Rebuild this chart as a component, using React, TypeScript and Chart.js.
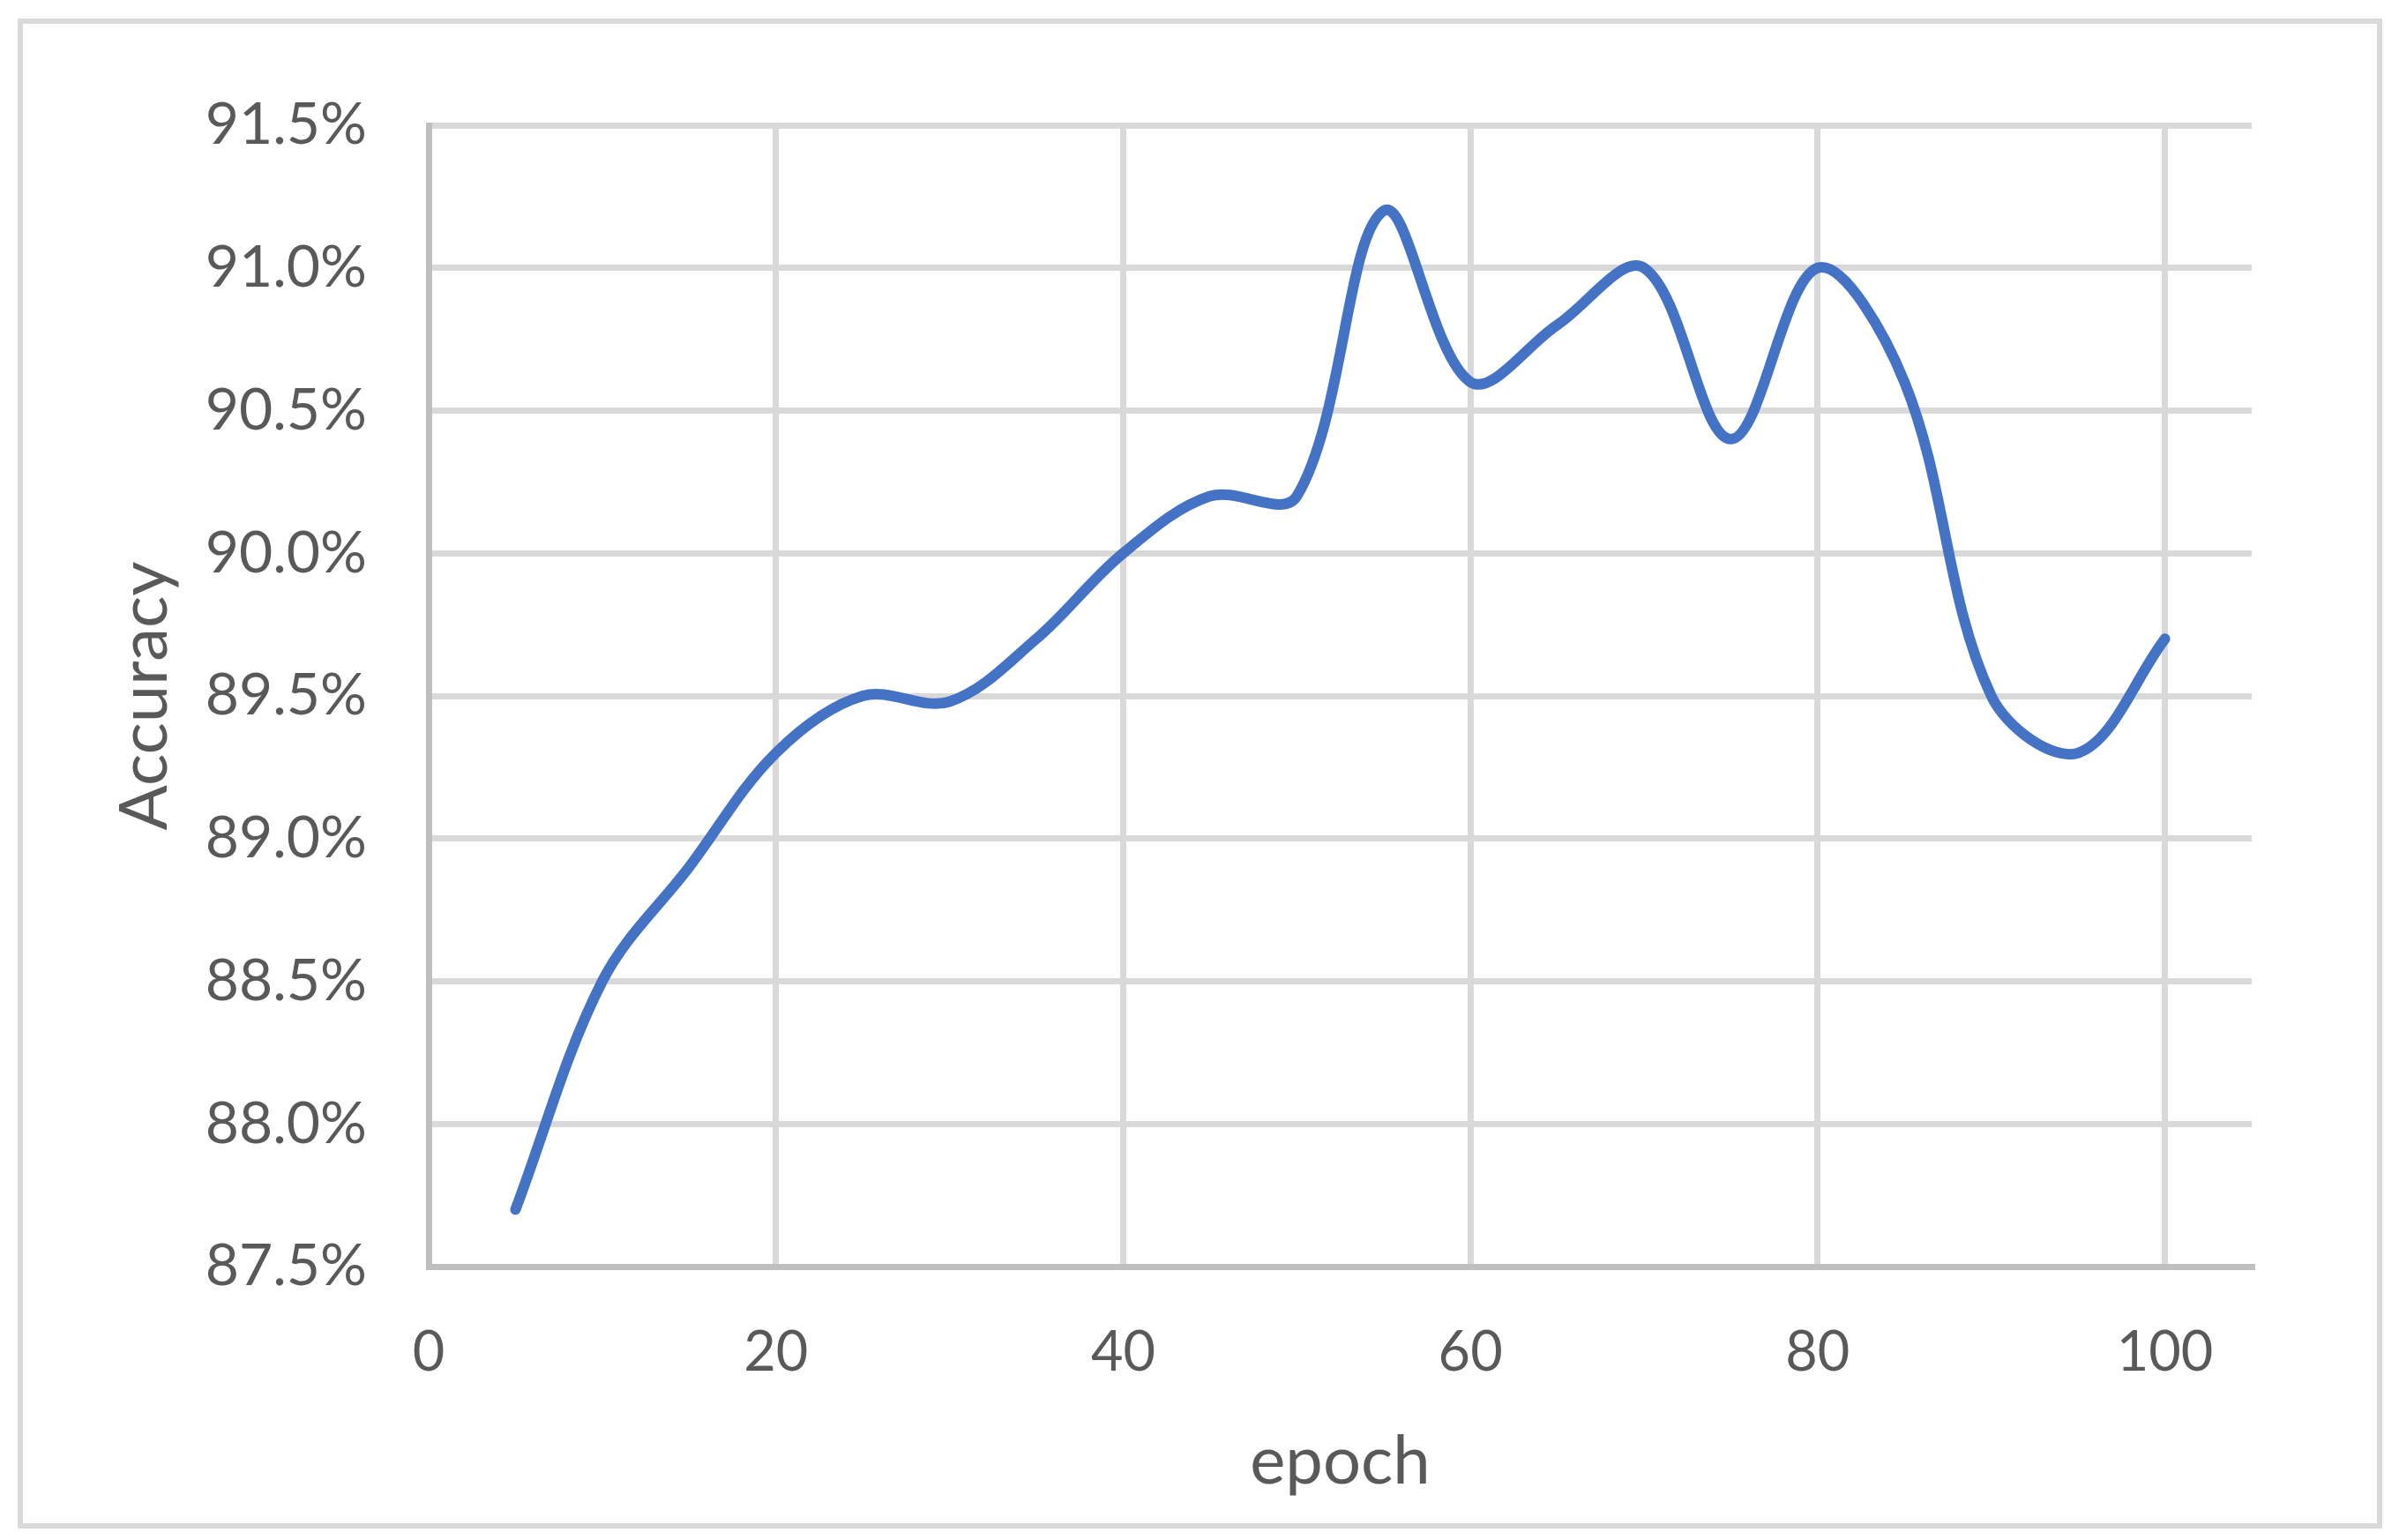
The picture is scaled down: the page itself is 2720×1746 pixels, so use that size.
import React, { useEffect, useRef } from "react";
import { Chart, registerables } from "chart.js";

Chart.register(...registerables);

const epochs: number[] = [5, 10, 15, 20, 25, 30, 35, 40, 45, 50, 55, 60, 65, 70, 75, 80, 85, 90, 95, 100];
const accuracy: number[] = [87.7, 88.5, 88.9, 89.3, 89.5, 89.48, 89.7, 90.0, 90.2, 90.2, 91.2, 90.6, 90.8, 91.0, 90.4, 91.0, 90.6, 89.5, 89.3, 89.7];
const xTickValues: number[] = [0, 20, 40, 60, 80, 100];
const yTickValues: number[] = [87.5, 88.0, 88.5, 89.0, 89.5, 90.0, 90.5, 91.0, 91.5];

const W = 2720;
const H = 1746;
const TEXT = "#595959";
const FONT = "Lato";

export default function App() {
  const ref = useRef<HTMLCanvasElement | null>(null);

  useEffect(() => {
    if (!ref.current) return;
    const chart = new Chart(ref.current, {
      type: "line",
      data: {
        datasets: [
          {
            label: "Accuracy",
            data: epochs.map((e, i) => ({ x: e, y: accuracy[i] })),
            borderColor: "#4472C4",
            backgroundColor: "#4472C4",
            borderWidth: 12,
            pointRadius: 0,
            tension: 0.35,
            borderCapStyle: "round",
            borderJoinStyle: "round",
            fill: false,
          },
        ],
      },
      options: {
        responsive: false,
        animation: false,
        devicePixelRatio: 1,
        layout: { padding: { left: 0, top: 142, right: 167, bottom: 0 } },
        plugins: {
          legend: { display: false },
          tooltip: { enabled: false },
        },
        scales: {
          x: {
            type: "linear",
            min: 0,
            max: 105,
            afterBuildTicks: (scale: any) => {
              scale.ticks = xTickValues.map((v) => ({ value: v }));
            },
            afterFit: (scale: any) => {
              scale.height = H - 1436;
            },
            grid: { color: "#d9d9d9", lineWidth: 7, drawTicks: false },
            border: { color: "#bfbfbf", width: 7 },
            ticks: {
              color: TEXT,
              font: { family: FONT, size: 63 },
              padding: 60,
              maxRotation: 0,
              callback: (v: any) => String(v),
            },
            title: {
              display: true,
              text: "epoch",
              color: TEXT,
              font: { family: FONT, size: 76 },
              padding: { top: 0, bottom: 43 },
            },
          },
          y: {
            type: "linear",
            min: 87.5,
            max: 91.5,
            afterBuildTicks: (scale: any) => {
              scale.ticks = yTickValues.map((v) => ({ value: v }));
            },
            afterFit: (scale: any) => {
              scale.width = 486;
            },
            grid: { color: "#d9d9d9", lineWidth: 7, drawTicks: false },
            border: { color: "#bfbfbf", width: 7 },
            ticks: {
              color: TEXT,
              font: { family: FONT, size: 66 },
              padding: 70,
              callback: (v: any) => Number(v).toFixed(1) + "%",
            },
            title: {
              display: true,
              text: "Accuracy",
              color: TEXT,
              font: { family: FONT, size: 76 },
              padding: { top: 119, bottom: 0 },
            },
          },
        },
      },
    });
    return () => chart.destroy();
  }, []);

  return (
    <div style={{ position: "fixed", left: 0, top: 0, width: W, height: H, background: "#ffffff" }}>
      <div
        style={{
          position: "absolute",
          left: 20,
          top: 21,
          width: 2681,
          height: 1712,
          border: "6px solid #d9d9d9",
          boxSizing: "border-box",
        }}
      />
      <canvas ref={ref} width={W} height={H} style={{ position: "absolute", left: 0, top: 0, width: W, height: H }} />
    </div>
  );
}
